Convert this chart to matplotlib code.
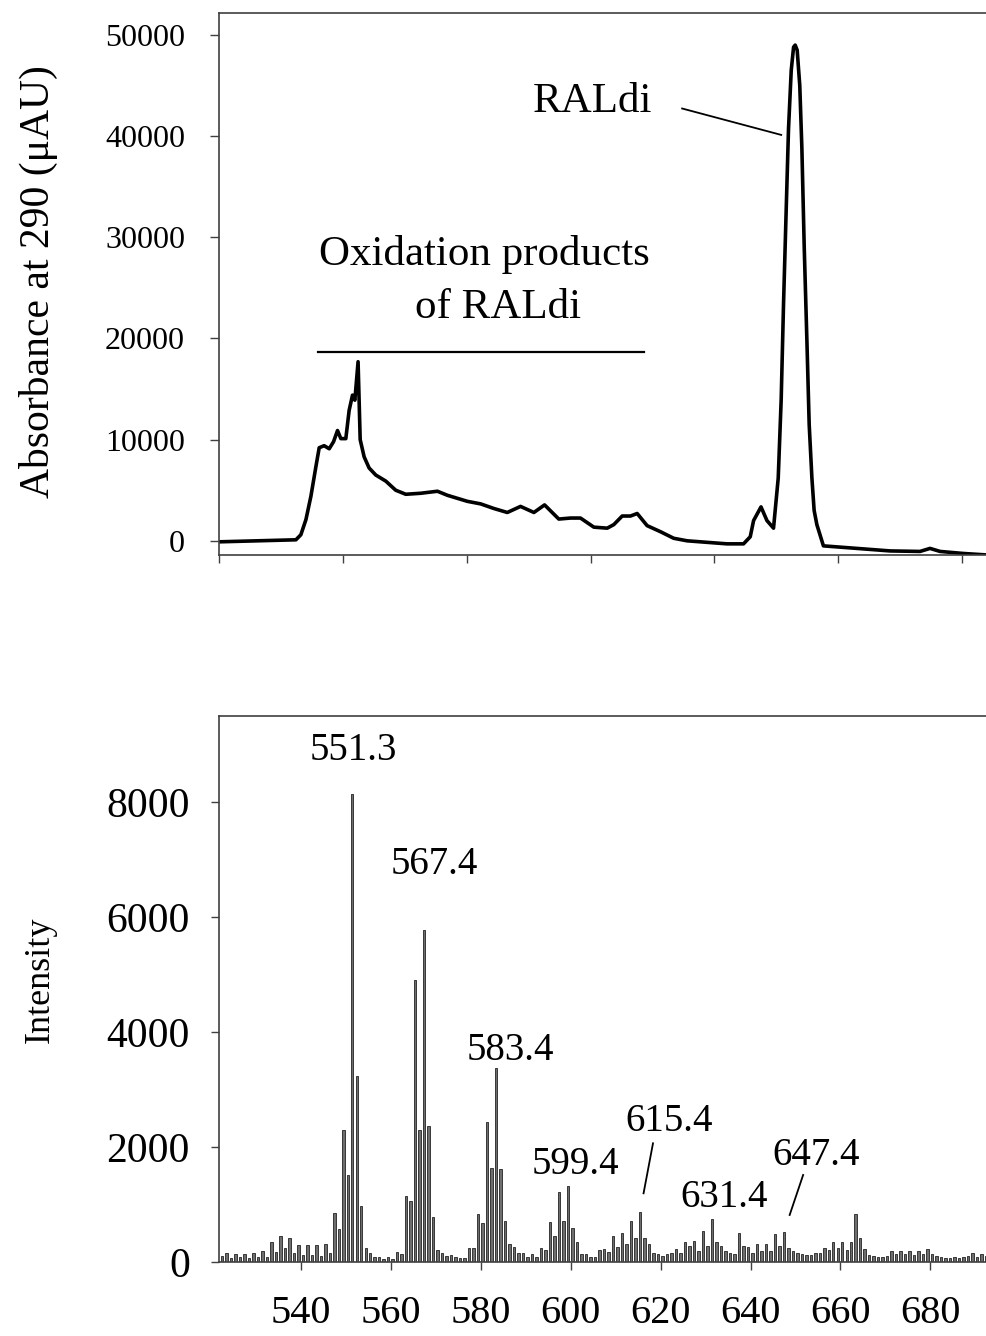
import numpy as np
import matplotlib
matplotlib.use('Agg')
from matplotlib import pyplot as plt

plt.rcParams['font.family'] = ['Liberation Serif', 'DejaVu Serif']

# --- chromatogram (time in axis tick units, absorbance in uAU) ---
time = [0.000, 0.621, 0.661, 0.702, 0.742, 0.782, 0.809, 0.849, 0.890, 0.925,
        0.957, 0.984, 1.024, 1.051, 1.078, 1.097, 1.123, 1.140, 1.172, 1.212,
        1.266, 1.347, 1.427, 1.508, 1.629, 1.764, 1.844, 2.006, 2.113, 2.218,
        2.328, 2.435, 2.543, 2.629, 2.744, 2.839, 2.919, 3.027, 3.135, 3.188,
        3.256, 3.323, 3.377, 3.457, 3.565, 3.672, 3.780, 3.941, 4.102, 4.236,
        4.290, 4.317, 4.377, 4.425, 4.478, 4.516, 4.540, 4.559, 4.581, 4.599,
        4.621, 4.640, 4.653, 4.669, 4.690, 4.707, 4.726, 4.748, 4.766, 4.788,
        4.806, 4.828, 4.881, 5.151, 5.419, 5.661, 5.742, 5.823, 6.010, 6.202]
absorbance = [-100, 100, 600, 2100, 4400, 7300, 9200, 9400, 9100, 9800,
              10900, 10100, 10100, 12900, 14400, 13900, 17700, 10000, 8300, 7200,
              6500, 5900, 5000, 4600, 4700, 4900, 4500, 3900, 3650, 3200,
              2800, 3400, 2800, 3550, 2150, 2250, 2250, 1350, 1250, 1600,
              2450, 2450, 2700, 1500, 900, 250, 0, -150, -300, -300,
              400, 2000, 3350, 2000, 1250, 6200, 14000, 23500, 33000, 40700,
              46500, 48800, 49000, 48500, 45000, 38800, 29000, 19600, 11500, 6200,
              3000, 1600, -500, -750, -1000, -1050, -750, -1050, -1250, -1400]

# --- mass spectrum, unit m/z from 522 ---
mz_start = 522
intensity = [105, 150, 75, 135, 95, 135, 75, 150, 95, 190,
             95, 350, 180, 455, 235, 425, 165, 300, 120, 300,
             115, 300, 105, 310, 150, 850, 580, 2290, 1515, 8150,
             3240, 980, 250, 165, 90, 90, 50, 90, 60, 180,
             135, 1140, 1055, 4900, 2300, 5780, 2360, 790, 215, 150,
             100, 120, 90, 75, 75, 235, 235, 835, 670, 2430,
             1630, 3370, 1610, 720, 310, 260, 165, 165, 95, 135,
             95, 240, 205, 690, 455, 1225, 720, 1330, 590, 340,
             135, 135, 95, 95, 205, 220, 175, 455, 260, 500,
             310, 720, 425, 875, 410, 310, 150, 145, 105, 135,
             165, 220, 165, 350, 280, 365, 190, 540, 280, 745,
             350, 280, 190, 150, 135, 500, 280, 260, 165, 310,
             190, 310, 190, 485, 280, 525, 240, 190, 165, 135,
             120, 120, 165, 165, 235, 210, 340, 240, 340, 210,
             355, 835, 415, 220, 120, 105, 90, 90, 105, 190,
             145, 190, 135, 190, 115, 190, 135, 220, 135, 105,
             90, 75, 75, 90, 75, 95, 105, 150, 95, 145,
             105]
mz = np.arange(mz_start, mz_start + len(intensity)) + 0.4

peak_labels = ['551.3', '567.4', '583.4', '599.4', '615.4', '631.4', '647.4']
label_x = [551.6, 569.6, 586.6, 601.0, 621.9, 634.1, 654.6]
label_y = [8726, 6743, 3506, 1523, 2271, 948, 1688]

fig = plt.figure(figsize=(9.87, 13.36), dpi=100)
spine_col = '#404040'

# top: chromatogram
ax1 = fig.add_axes([0.2219, 0.5846, 0.7781, 0.4059])
ax1.plot(time, absorbance, color='black', lw=2.6, solid_joinstyle='round')
ax1.set_xlim(0, 6.202)
ax1.set_ylim(-1400, 52200)
ax1.set_xticks(range(7))
ax1.set_xticklabels([])
ax1.set_yticks([0, 10000, 20000, 30000, 40000, 50000])
ax1.tick_params(axis='y', labelsize=23, length=6.5, width=1, pad=18, color=spine_col)
ax1.tick_params(axis='x', length=5.5, width=1, color=spine_col)
ax1.spines['right'].set_visible(False)
for s in ['left', 'top', 'bottom']:
    ax1.spines[s].set_color(spine_col)
    ax1.spines[s].set_linewidth(1.2)

ax1.text(3.02, 42390, 'RALdi', fontsize=31, ha='center', va='baseline')
ax1.plot([3.74, 4.54], [42730, 40120], color='black', lw=1.3)
ax1.text(2.14, 27270, 'Oxidation products', fontsize=31, ha='center', va='baseline')
ax1.text(2.25, 22040, 'of RALdi', fontsize=31, ha='center', va='baseline')
ax1.plot([0.80, 3.43], [18700, 18700], color='black', lw=1.6)

fig.text(0.0385, 0.789, 'Absorbance at 290 (\u03bcAU)', fontsize=30,
         rotation=90, ha='center', va='center')

# bottom: mass spectrum
ax2 = fig.add_axes([0.2219, 0.0554, 0.7781, 0.4087])
ax2.bar(mz, intensity, width=0.55, color='#6e6e6e', edgecolor='#222222', linewidth=0.6)
ax2.set_xlim(521.76, 692.6)
ax2.set_ylim(0, 9500)
ax2.set_xticks([540, 560, 580, 600, 620, 640, 660, 680])
ax2.set_yticks([0, 2000, 4000, 6000, 8000])
ax2.tick_params(axis='y', labelsize=30, length=6, width=1, pad=15, color=spine_col)
ax2.tick_params(axis='x', labelsize=29, length=6, width=1, pad=18, color=spine_col)
ax2.spines['right'].set_visible(False)
for s in ['left', 'top', 'bottom']:
    ax2.spines[s].set_color(spine_col)
    ax2.spines[s].set_linewidth(1.2)

for txt, x, y in zip(peak_labels, label_x, label_y):
    ax2.text(x, y, txt, fontsize=28, ha='center', va='baseline')
ax2.plot([618.3, 616.2], [2065, 1195], color='black', lw=1.3)
ax2.plot([651.7, 648.7], [1514, 818], color='black', lw=1.3)

fig.text(0.0405, 0.2665, 'Intensity', fontsize=26, rotation=90,
         ha='center', va='center')

fig.savefig('out.png', dpi=100)
